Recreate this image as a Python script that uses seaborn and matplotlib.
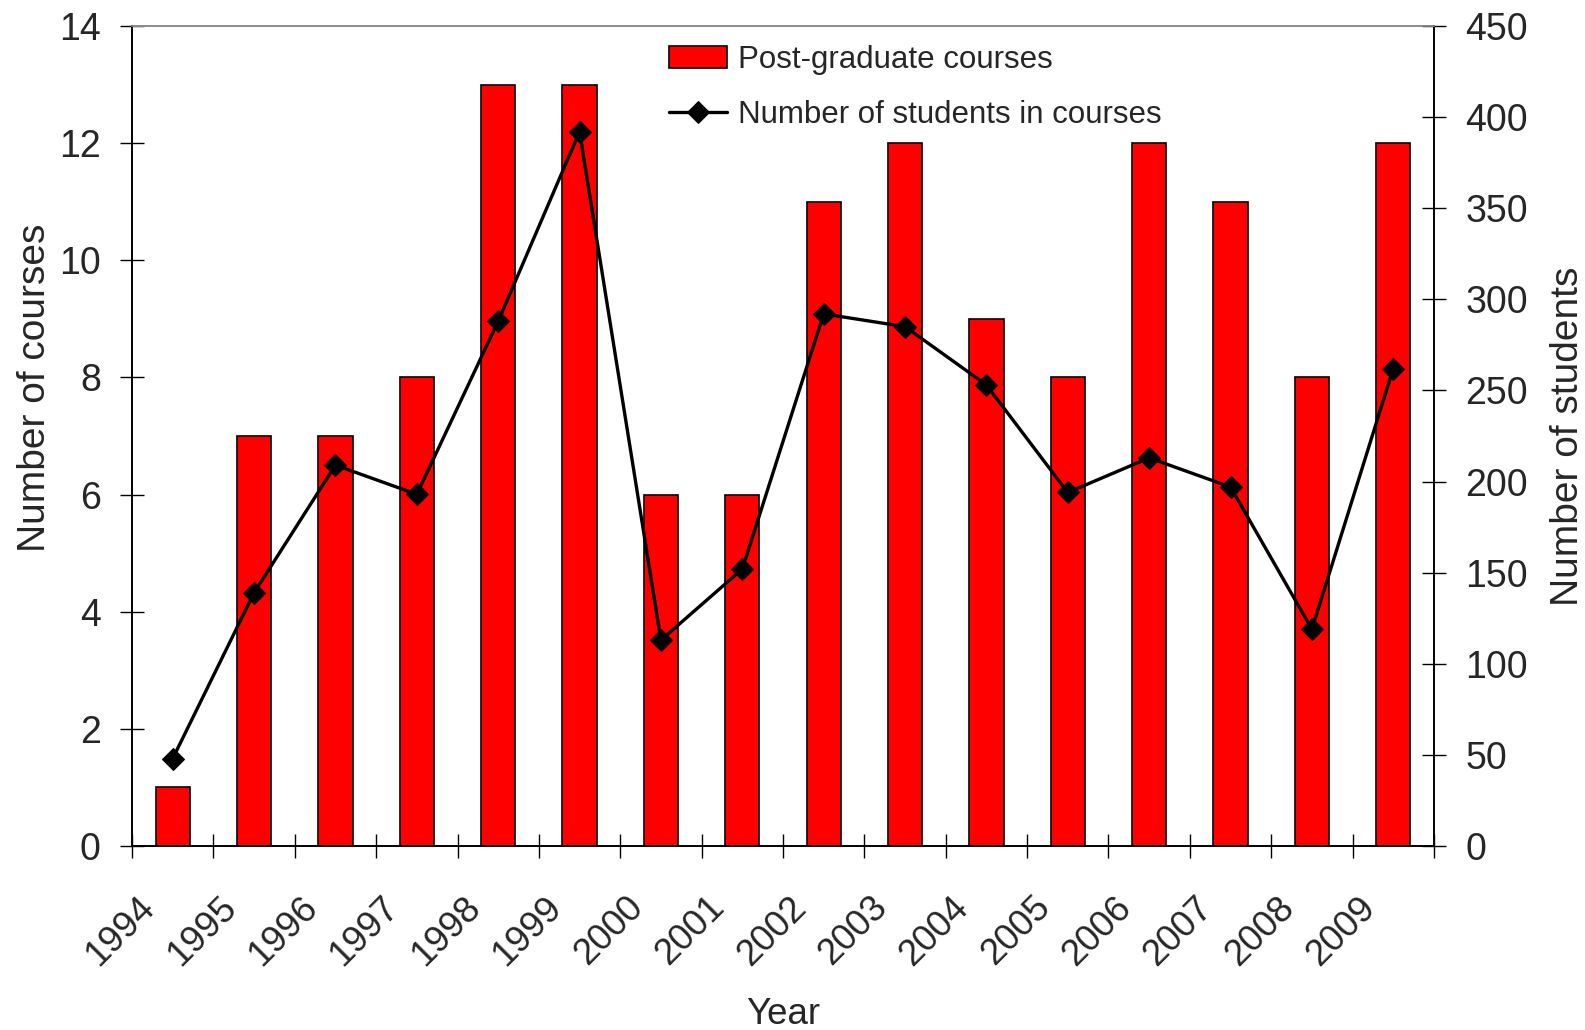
import matplotlib
matplotlib.use("Agg")
import matplotlib.pyplot as plt
import matplotlib.transforms as mtransforms
import seaborn as sns
import numpy as np
import pandas as pd

# Data
years = ['1994', '1995', '1996', '1997', '1998', '1999', '2000', '2001',
         '2002', '2003', '2004', '2005', '2006', '2007', '2008', '2009']
courses = [1, 7, 7, 8, 13, 13, 6, 6, 11, 12, 9, 8, 12, 11, 8, 12]
students = [48, 139, 209, 193, 288, 392, 113, 152, 292, 285, 253, 194, 213, 197, 119, 262]

df = pd.DataFrame({'Year': years, 'Courses': courses, 'Students': students})
df['pos'] = np.arange(len(df))

sns.set_style('white')
plt.rcParams['font.family'] = ['Liberation Sans', 'DejaVu Sans']

fig = plt.figure(figsize=(15.85, 10.30), dpi=100)
ax = fig.add_axes([0.0833, 0.1786, 0.8214, 0.7962])

sns.barplot(data=df, x='pos', y='Courses', color='#ff0000', saturation=1,
            width=0.42, edgecolor='black', linewidth=1.2, ax=ax,
            label='Post-graduate courses')
if ax.get_legend() is not None:
    ax.get_legend().remove()

ax2 = ax.twinx()
sns.lineplot(data=df, x='pos', y='Students', color='black', linewidth=2.4,
             marker='D', markersize=11.5, markeredgecolor='black', ax=ax2,
             label='Number of students in courses', legend=False)

ax.set_xlim(-0.5, len(years) - 0.5)
ax.set_ylim(0, 14)
ax2.set_ylim(0, 450)
ax.set_yticks(np.arange(0, 15, 2))
ax2.set_yticks(np.arange(0, 451, 50))

fs = 27
for a in (ax, ax2):
    a.tick_params(direction='inout', length=17, width=1, color='black',
                  labelsize=fs, pad=14)
    for s in a.spines.values():
        s.set_color('black')
        s.set_linewidth(1.2)
    a.spines['top'].set_color('#8c8c8c')
ax.tick_params(axis='x', pad=23, labelsize=26.5)
ax.tick_params(left=True, bottom=True)
ax2.tick_params(right=True)

# year labels sit on the boundary ticks, nudged right like the original
ax.set_xticks(np.arange(len(years) + 1) - 0.5)
ax.set_xticklabels(years + [''], rotation=45, ha='right', va='top')
offset = mtransforms.ScaledTranslation(30 / 100, 0, fig.dpi_scale_trans)
for lab in ax.get_xticklabels():
    lab.set_transform(lab.get_transform() + offset)

ax.set_xlabel('Year', fontsize=26.5, labelpad=18)
ax.set_ylabel('Number of courses', fontsize=28, labelpad=4, y=0.559)
ax2.set_ylabel('Number of students', fontsize=28, labelpad=16)

h1, l1 = ax.get_legend_handles_labels()
h2, l2 = ax2.get_legend_handles_labels()
fig.legend(h1 + h2, l1 + l2, loc='upper left',
           bbox_to_anchor=(669 / 1585, 1 - 45 / 1030), frameon=False,
           fontsize=22.5, borderpad=0, borderaxespad=0, handlelength=1.85,
           handletextpad=0.35, labelspacing=0.79)

fig.savefig('out.png', dpi=100)
